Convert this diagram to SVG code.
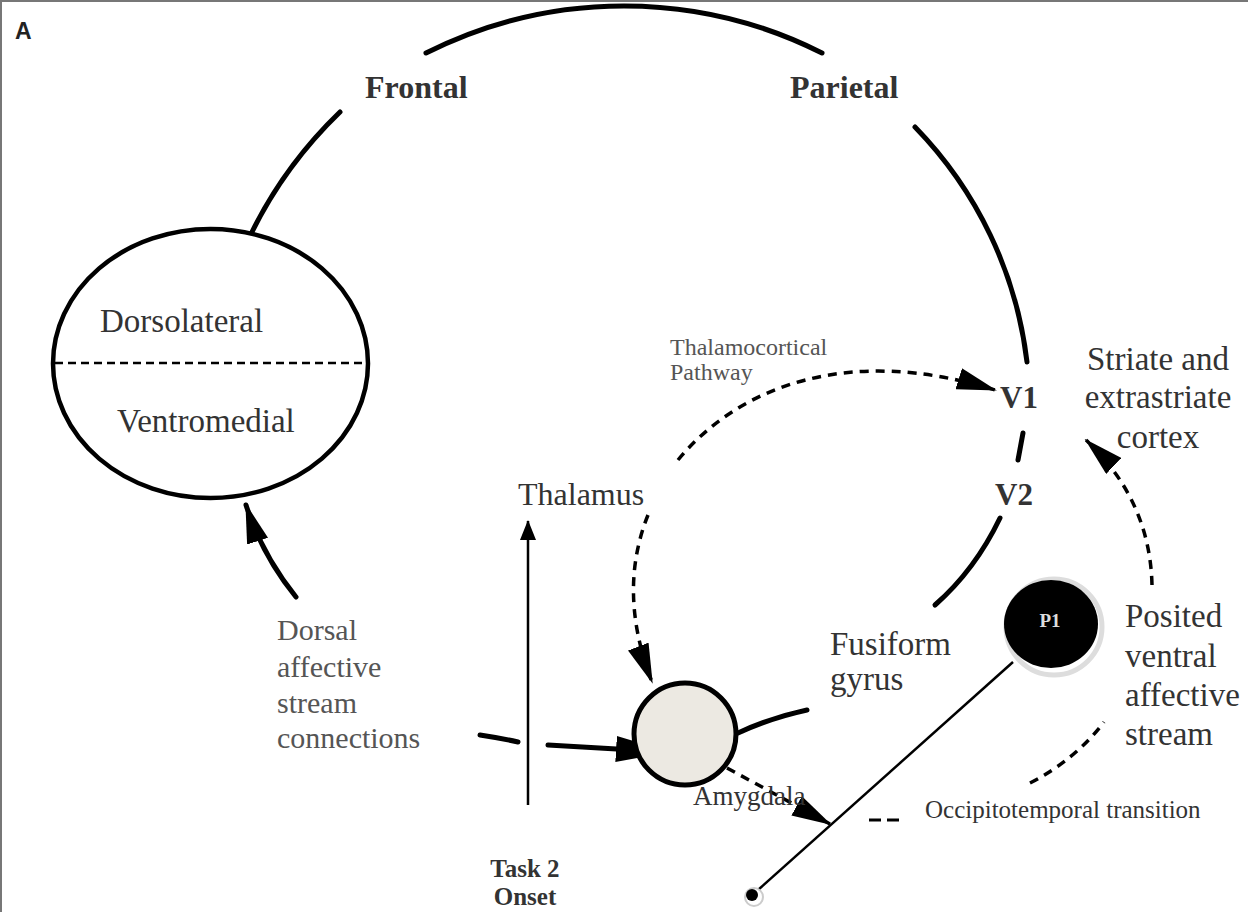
<svg xmlns="http://www.w3.org/2000/svg" width="1248" height="912" viewBox="0 0 1248 912">
<defs>
<style>
.t{font-family:"Liberation Serif","Times New Roman",serif;fill:#333}
.tl{font-family:"Liberation Serif","Times New Roman",serif;fill:#555}
.b{font-weight:bold}
.thick{fill:none;stroke:#000;stroke-width:5;stroke-linecap:round}
.dash{fill:none;stroke:#000;stroke-width:3.5;stroke-dasharray:9 7}
.thin{fill:none;stroke:#000;stroke-width:2.5}
</style>
<marker id="ah" viewBox="0 0 40 22" refX="38" refY="11" markerWidth="40" markerHeight="22" orient="auto" markerUnits="userSpaceOnUse"><path d="M0,0 L40,11 L0,22 Z" fill="#000"/></marker>
<marker id="ahL" viewBox="0 0 54 26" refX="52" refY="13" markerWidth="54" markerHeight="26" orient="auto" markerUnits="userSpaceOnUse"><path d="M0,0 L54,13 L0,26 Z" fill="#000"/></marker>
<marker id="ahS" viewBox="0 0 20 16" refX="19" refY="8" markerWidth="20" markerHeight="16" orient="auto" markerUnits="userSpaceOnUse"><path d="M0,0 L20,8 L0,16 Z" fill="#000"/></marker>
</defs>
<rect x="0" y="0" width="1248" height="912" fill="#fff"/>
<path d="M1 912 L1 1 L1248 1" fill="none" stroke="#777" stroke-width="2"/>
<text x="15" y="39" font-family="Liberation Sans, Arial, sans-serif" font-weight="bold" font-size="23" fill="#222">A</text>

<g id="connectors">
<path class="thick" d="M426 53 A440 440 0 0 1 822 53"/>
<path class="thick" d="M340 112 Q285 165 252 232"/>
<path class="thick" d="M915 127 A405 405 0 0 1 1027 362"/>
<path class="thick" d="M1023 433 L1018 460"/>
<path class="thick" d="M1000 518 Q975 570 935 605"/>
<path class="thick" d="M738 733 Q770 718 807 710"/>
<path class="thick" d="M296 597 Q262 555 246 505" marker-end="url(#ah)"/>
<path class="thick" d="M480 735 Q500 738 518 742"/>
<path class="thick" d="M548 745 Q600 748 668 752" marker-end="url(#ahL)"/>
<path class="thin" d="M528 805 L528 521" marker-end="url(#ahS)"/>
<path class="dash" d="M678 460 C740 385 850 345 995 390" marker-end="url(#ah)"/>
<path class="dash" d="M648 515 C628 565 628 620 652 682" marker-end="url(#ah)"/>
<path class="dash" d="M1152 585 Q1150 500 1086 440" marker-end="url(#ah)"/>
<path class="dash" d="M727 768 L830 824" marker-end="url(#ah)"/>
<path class="dash" d="M869 820 L901 820" style="stroke-dasharray:12 6;stroke-width:3"/>
<path class="dash" d="M1030 783 Q1075 760 1104 722"/>
<path class="thin" d="M1013 662 L758 890"/>
</g>

<g id="frontal-ellipse">
<ellipse cx="210.5" cy="363.5" rx="157.5" ry="134.5" fill="none" stroke="#000" stroke-width="4.5"/>
<line x1="55" y1="363" x2="366" y2="363" stroke="#000" stroke-width="2.5" stroke-dasharray="8 5"/>
<text class="t" x="100" y="332" font-size="33">Dorsolateral</text>
<text class="t" x="117" y="432" font-size="33">Ventromedial</text>
</g>

<g id="frontal"><text class="t b" x="365" y="98" font-size="32" fill="#222">Frontal</text></g>
<g id="parietal"><text class="t b" x="790" y="98" font-size="32">Parietal</text></g>

<g id="thalamocortical">
<text class="tl" x="670" y="355" font-size="24">Thalamocortical</text>
<text class="tl" x="670" y="380" font-size="24">Pathway</text>
</g>

<g id="v1"><text class="t b" x="1000" y="408" font-size="31">V1</text></g>
<g id="v2"><text class="t b" x="995" y="505" font-size="31">V2</text></g>

<g id="striate">
<text class="t" x="1158" y="370" font-size="33" text-anchor="middle">Striate and</text>
<text class="t" x="1158" y="408" font-size="33" text-anchor="middle">extrastriate</text>
<text class="t" x="1158" y="448" font-size="33" text-anchor="middle">cortex</text>
</g>

<g id="thalamus"><text class="t" x="518" y="505" font-size="32">Thalamus</text></g>

<g id="dorsal-label">
<text class="tl" x="277" y="640" font-size="30">Dorsal</text>
<text class="tl" x="277" y="677" font-size="30">affective</text>
<text class="tl" x="277" y="713" font-size="30">stream</text>
<text class="tl" x="277" y="748" font-size="30">connections</text>
</g>

<g id="fusiform">
<text class="t" x="830" y="655" font-size="33">Fusiform</text>
<text class="t" x="830" y="690" font-size="33">gyrus</text>
</g>

<g id="amygdala">
<circle cx="685" cy="734" r="51" fill="#ece9e2" stroke="#000" stroke-width="5"/>
<text class="t" x="693" y="805" font-size="27" fill="#444">Amygdala</text>
</g>

<g id="p1">
<circle cx="1054" cy="627" r="48" fill="none" stroke="#ddd" stroke-width="5"/>
<ellipse cx="1051" cy="624" rx="47" ry="44" fill="#000"/>
<text x="1050" y="627" font-family="Liberation Serif, serif" font-weight="bold" font-size="19" fill="#ddd" text-anchor="middle">P1</text>
</g>

<g id="posited">
<text class="t" x="1125" y="627" font-size="33">Posited</text>
<text class="t" x="1125" y="667" font-size="33">ventral</text>
<text class="t" x="1125" y="706" font-size="33">affective</text>
<text class="t" x="1125" y="745" font-size="33">stream</text>
</g>

<g id="occipitotemporal"><text class="t" x="925" y="818" font-size="25" fill="#444">Occipitotemporal transition</text></g>

<g id="task2">
<text class="t b" x="525" y="877" font-size="25" text-anchor="middle">Task 2</text>
<text class="t b" x="525" y="905" font-size="25" text-anchor="middle">Onset</text>
</g>

<g id="onset-dot">
<circle cx="754" cy="897" r="9" fill="#fff" stroke="#ccc" stroke-width="2"/>
<circle cx="752" cy="895" r="6" fill="#000"/>
</g>
</svg>
